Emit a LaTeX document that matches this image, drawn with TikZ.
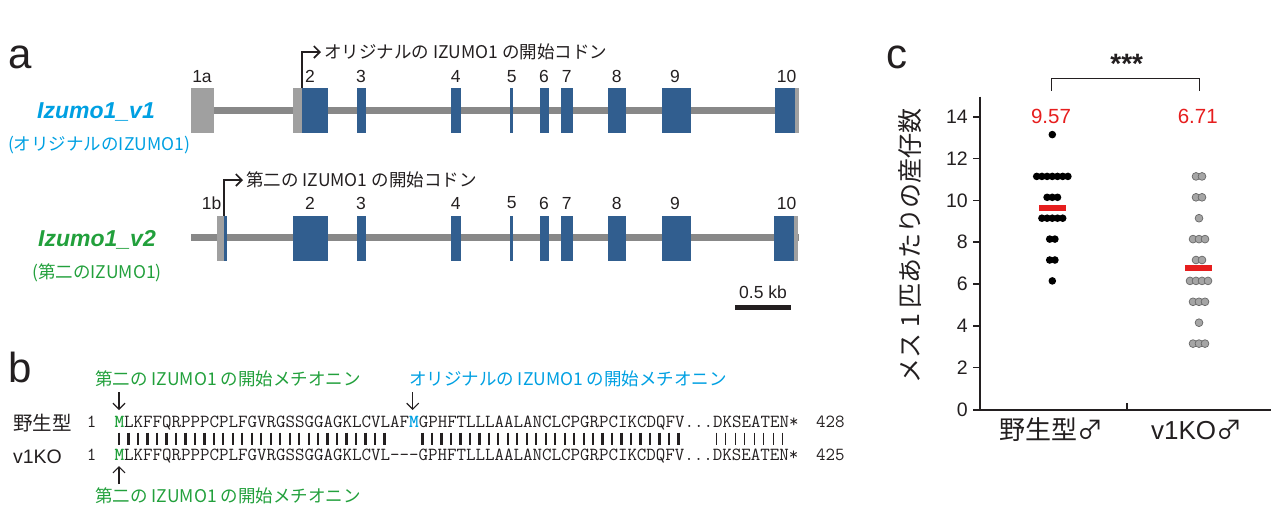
\documentclass[tikz,border=0pt]{standalone}
\usepackage{fontspec}
\setmainfont{Liberation Sans}
\newfontfamily\jp{Noto Sans CJK JP}
\usetikzlibrary{arrows.meta}
\definecolor{exonblue}{RGB}{49,94,143}
\definecolor{utrgray}{RGB}{160,160,160}
\definecolor{introngray}{RGB}{136,136,136}
\definecolor{cyanlbl}{RGB}{0,160,226}
\definecolor{greenlbl}{RGB}{34,160,60}
\definecolor{redm}{RGB}{230,30,30}
\definecolor{ink}{RGB}{35,31,32}
\definecolor{dotgray}{RGB}{165,165,165}
\definecolor{dotedge}{RGB}{105,105,105}
\begin{document}
\begin{tikzpicture}[x=1pt,y=-1pt,
  exon/.style={fill=exonblue},
  utr/.style={fill=utrgray},
  intron/.style={draw=introngray,line width=7pt},
  numlbl/.style={inner sep=0pt,text=ink,font=\fontsize{17.5}{17.5}\selectfont},
  jpl/.style={inner sep=0pt,font=\jp\fontsize{17.5}{18}\selectfont},
  panel/.style={inner sep=0pt,text=ink,anchor=base west,font=\fontsize{42}{42}\selectfont},
  startarrow/.style={draw=ink,line width=1.6pt,-{Straight Barb[length=6pt,width=12pt]}},
  seqarrow/.style={draw=ink,line width=1.2pt,-{Straight Barb[length=6pt,width=12pt]}},
  seq/.style={inner sep=0pt,anchor=base west,text=ink,font=\ttfamily\fontsize{18.44}{20}\selectfont},
  bar/.style={draw=ink,line width=2.3pt},
  thinbar/.style={draw=ink,line width=1pt},
  wtdot/.style={fill=black},
  kodot/.style={fill=dotgray,draw=dotedge,line width=0.7pt},
  meanbar/.style={fill=redm},
  axis/.style={draw=ink,line width=2.5pt},
  ticklbl/.style={inner sep=0pt,anchor=east,text=ink,font=\fontsize{19.5}{20}\selectfont}
]
\useasboundingbox (0,0) rectangle (1272,507);

% ---------------- panel a ----------------
\node[panel] (pa) at (8,68) {a};

% v1
\draw[intron] (213,110.7) -- (775,110.7);
\fill[utr] (191,88) rectangle (213.7,133);
\fill[utr] (293,88) rectangle (302,133);
\fill[utr] (795,88) rectangle (799,133);
\foreach \a/\b in {302/327.7,357/366,451/461,510/512.7,540/549,561/573,608/626,662/691,775/795}
  \fill[exon] (\a,88) rectangle (\b,133);
\foreach \x/\t [count=\i] in {202/1a,310/2,361/3,455.7/4,511.7/5,544/6,566.7/7,616.7/8,675/9,786.7/10}
  \node[numlbl] (v1e\i) at (\x,76.7) {\t};
\coordinate (s1) at (302,88);
\node[jpl,anchor=west,text=ink] (t1) at (324,52) {オリジナルの IZUMO1 の開始コドン};
\draw[startarrow,shorten >=3pt] (s1) |- (t1.west);
\node[inner sep=0pt,text=cyanlbl,font=\bfseries\itshape\fontsize{23}{23}\selectfont] (n1) at (96,112) {Izumo1\_v1};
\node[jpl,text=cyanlbl] (p1) at (99,145) {(オリジナルのIZUMO1)};

% v2
\draw[intron] (191,237.7) -- (799,237.7);
\fill[utr] (217,216) rectangle (224,261);
\fill[exon] (224,216) rectangle (226.5,261);
\fill[utr] (794,216) rectangle (798,261);
\foreach \a/\b in {293/327.7,357/366,451/461,510/512.7,540/549,561/573,608/626,662/691,774/794}
  \fill[exon] (\a,216) rectangle (\b,261);
\foreach \x/\t [count=\i] in {211.7/1b,310/2,361/3,455.7/4,511.7/5,544/6,566.7/7,616.7/8,675/9,786.7/10}
  \node[numlbl] (v2e\i) at (\x,203) {\t};
\coordinate (s2) at (224,216);
\node[jpl,anchor=west,text=ink] (t2) at (246,180) {第二の IZUMO1 の開始コドン};
\draw[startarrow,shorten >=3pt] (s2) |- (t2.west);
\node[inner sep=0pt,text=greenlbl,font=\bfseries\itshape\fontsize{23}{23}\selectfont] (n2) at (97,240) {Izumo1\_v2};
\node[jpl,text=greenlbl] (p2) at (97,273) {(第二のIZUMO1)};

% scale bar
\node[numlbl] (kb) at (763,292) {0.5 kb};
\fill[ink] (735,304.5) rectangle (790.7,309.5);

% ---------------- panel b ----------------
\node[panel] (pb) at (8,382) {b};
\node[jpl,text=greenlbl] (g1) at (228,379) {第二の IZUMO1 の開始メチオニン};
\node[jpl,text=cyanlbl] (c1) at (568,379) {オリジナルの IZUMO1 の開始メチオニン};
\coordinate (a1s) at (119,392);
\coordinate (a1e) at (119,410);
\coordinate (a2s) at (412.7,392);
\coordinate (a2e) at (412.7,410);
\draw[seqarrow] (a1s) -- (a1e);
\draw[seqarrow] (a2s) -- (a2e);

\node[inner sep=0pt,text=ink,font=\jp\fontsize{19.5}{20}\selectfont] (wt) at (42.5,423) {野生型};
\node[inner sep=0pt,text=ink,font=\fontsize{19.5}{20}\selectfont] (ko) at (37.5,456.7) {v1KO};
\node[seq,anchor=base] (w1) at (91.7,427) {1};
\node[seq,anchor=base] (k1) at (91.7,460) {1};
\node[seq] (wseq) at (114.3,427) {{\color{greenlbl}\bfseries M}LKFFQRPPPCPLFGVRGSSGGAGKLCVLAF{\color{cyanlbl}\bfseries M}GPHFTLLLAALANCLCPGRPCIKCDQFV...DKSEATEN*};
\node[seq] (kseq) at (114.3,460) {{\color{greenlbl}\bfseries M}LKFFQRPPPCPLFGVRGSSGGAGKLCVL-{}-{}-GPHFTLLLAALANCLCPGRPCIKCDQFV...DKSEATEN*};
\node[seq] (w428) at (816,427) {428};
\node[seq] (k425) at (816,460) {425};
\foreach \i in {0,...,28,32,33,...,59}
  \draw[bar] ({114.3+(\i+0.5)*9.482},432.5) -- ++(0,12.5);
\foreach \i in {63,...,70}
  \draw[thinbar] ({114.3+(\i+0.5)*9.482},432.5) -- ++(0,12.5);
\coordinate (a3s) at (119,484);
\coordinate (a3e) at (119,466);
\draw[seqarrow] (a3s) -- (a3e);
\node[jpl,text=greenlbl] (g2) at (228,496) {第二の IZUMO1 の開始メチオニン};

% ---------------- panel c ----------------
\node[panel] (pc) at (886,68) {c};
\draw[axis] (980,96.7) -- (980,410);
\draw[axis] (973.3,410) -- (1271,410);
\foreach \t in {2,4,...,14}
  \draw[draw=ink,line width=1.6pt] (973.3,{409.3-20.9*\t}) -- (980,{409.3-20.9*\t});
\foreach \t in {0,2,...,14}
  \node[ticklbl] at (968,{409.3-20.9*\t}) {\t};
\draw[draw=ink,line width=1.6pt] (1126.7,410) -- (1126.7,402.5);
\node[inner sep=0pt,rotate=90,text=ink,font=\jp\fontsize{25}{25}\selectfont] (ylab) at (910,246) {メス 1 匹あたりの産仔数};

\node[inner sep=0pt,text=ink,font=\jp\fontsize{26}{26}\selectfont] (xw) at (1051.7,430) {野生型♂};
\node[inner sep=0pt,text=ink,font=\fontsize{26}{26}\selectfont] (xk) at (1196.7,430) {v1KO{\jp ♂}};

% dots
\foreach \v/\n in {13/1,11/7,10/3,9/5,8/2,7/2,6/1}
  \foreach \k in {1,...,\n}
    \fill[wtdot] ({1052.3+(\k-(\n+1)/2)*5.2},{406.3-20.9*\v}) circle (3.8);
\foreach \v/\n in {11/2,10/2,9/1,8/3,7/2,6/4,5/3,4/1,3/3}
  \foreach \k in {1,...,\n}
    \filldraw[kodot] ({1199+(\k-(\n+1)/2)*6},{406.3-20.9*\v}) circle (3.9);
\fill[meanbar] (1039,205) rectangle (1065.7,210.5);
\fill[meanbar] (1185,265) rectangle (1211.7,270.5);
\node[inner sep=0pt,text=redm,font=\fontsize{20.5}{20}\selectfont] (m1) at (1051,116.7) {9.57};
\node[inner sep=0pt,text=redm,font=\fontsize{20.5}{20}\selectfont] (m2) at (1197.7,116.7) {6.71};

% significance
\coordinate (bl) at (1051,90.7);
\coordinate (br) at (1199.3,90.7);
\draw[draw=ink,line width=0.9pt] (bl) -- ++(0,-12.4) -| (br);
\node[inner sep=0pt,anchor=base,text=ink,font=\bfseries\fontsize{28}{28}\selectfont] (sig) at (1126.7,73) {***};
\end{tikzpicture}
\end{document}
